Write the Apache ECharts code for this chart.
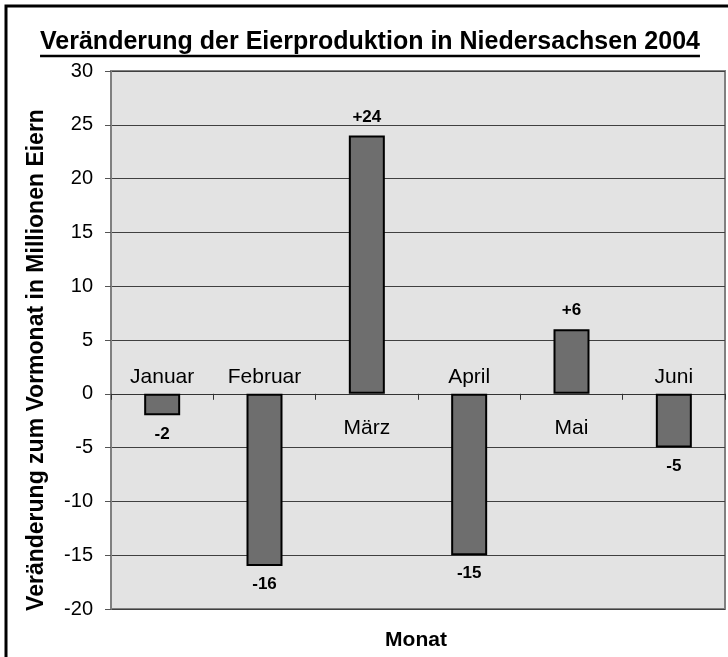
<!DOCTYPE html>
<html>
<head>
<meta charset="utf-8">
<script src="https://cdn.jsdelivr.net/npm/echarts@6/dist/echarts.min.js"></script>
<style>
  html, body { margin: 0; padding: 0; background: #fff; }
  #chart { width: 728px; height: 657px; }
</style>
</head>
<body>
<div id="chart"></div>
<script>
// Daten (Millionen Eier, Veränderung zum Vormonat)
var months = ['Januar', 'Februar', 'März', 'April', 'Mai', 'Juni'];
var changes = [-2, -16, 24, -15, 6, -5];
var yTicks = { min: -20, max: 30, step: 5 };

var FONT = 'Liberation Sans';
var titleText = 'Veränderung der Eierproduktion in Niedersachsen 2004';
var titleSize = 25;
var titleCx = 370;

function signed(v) {
  return v > 0 ? '+' + v : String(v);
}

// width of the title, for the underline
var ctx = document.createElement('canvas').getContext('2d');
ctx.font = 'bold ' + titleSize + 'px "' + FONT + '"';
var titleW = ctx.measureText(titleText).width;

var chart = echarts.init(document.getElementById('chart'));

var option = {
  backgroundColor: '#fff',
  animation: false,
  title: {
    text: titleText,
    left: titleCx - titleW / 2,
    top: 30,
    padding: 0,
    textStyle: { fontFamily: FONT, fontWeight: 'bold', fontSize: titleSize, color: '#000' }
  },
  grid: {
    left: 111, right: 3, top: 71, bottom: 48,
    show: true,
    backgroundColor: '#e3e3e3',
    borderColor: '#808080',
    borderWidth: 2
  },
  xAxis: {
    type: 'category',
    data: months,
    axisLine: { onZero: true, lineStyle: { color: '#333', width: 1 } },
    axisTick: { show: true, length: 6, lineStyle: { color: '#333' } },
    axisLabel: { show: false },
    splitLine: { show: false }
  },
  yAxis: {
    type: 'value',
    min: yTicks.min,
    max: yTicks.max,
    interval: yTicks.step,
    axisLine: { show: true, lineStyle: { color: '#808080', width: 2 } },
    axisTick: { show: true, length: 6, lineStyle: { color: '#555' } },
    axisLabel: { margin: 18, fontFamily: FONT, fontSize: 20, color: '#000' },
    splitLine: { show: true, lineStyle: { color: '#404040', width: 1 } }
  },
  series: [
    {
      type: 'bar',
      barWidth: 36,
      itemStyle: { color: '#6e6e6e', borderColor: '#000', borderWidth: 2 },
      label: {
        show: true,
        distance: 10,
        fontFamily: FONT, fontWeight: 'bold', fontSize: 17, color: '#000',
        formatter: function (p) { return signed(p.value); }
      },
      data: changes.map(function (v) {
        return { value: v, label: { position: v < 0 ? 'bottom' : 'top' } };
      })
    },
    {
      // month names sit on the zero line, opposite to the bar
      type: 'scatter',
      symbolSize: 0,
      silent: true,
      itemStyle: { opacity: 1 },
      label: {
        show: true,
        opacity: 1,
        fontFamily: FONT, fontSize: 21, color: '#000',
        formatter: function (p) { return months[p.dataIndex]; }
      },
      data: months.map(function (m, i) {
        var up = changes[i] < 0;
        return {
          value: [m, 0],
          label: { position: up ? 'top' : 'bottom', distance: up ? 6 : 24 }
        };
      })
    }
  ],
  graphic: [
    // outer frame (cut at right and bottom like the source)
    {
      type: 'rect',
      shape: { x: 6, y: 6, width: 900, height: 900 },
      style: { fill: 'none', stroke: '#000', lineWidth: 3 },
      silent: true
    },
    // title underline
    {
      type: 'line',
      shape: { x1: titleCx - titleW / 2, y1: 56, x2: titleCx + titleW / 2, y2: 56 },
      style: { stroke: '#000', lineWidth: 2.5 },
      silent: true
    },
    {
      type: 'text',
      x: 37, y: 360,
      rotation: Math.PI / 2,
      style: {
        text: 'Veränderung zum Vormonat in Millionen Eiern',
        align: 'center', verticalAlign: 'middle',
        font: 'bold 23px "Liberation Sans"', fill: '#000'
      }
    },
    {
      type: 'text',
      x: 416, y: 640,
      style: {
        text: 'Monat',
        align: 'center', verticalAlign: 'middle',
        font: 'bold 21px "Liberation Sans"', fill: '#000'
      }
    }
  ]
};

chart.setOption(option);
</script>
</body>
</html>
